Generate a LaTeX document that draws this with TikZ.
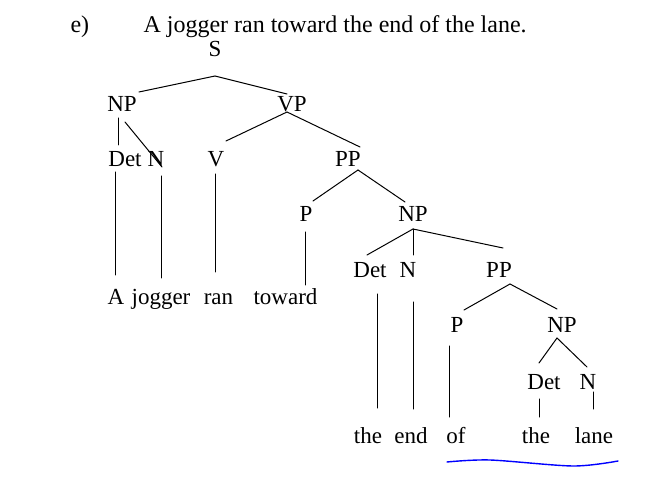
\documentclass[tikz,border=0pt]{standalone}
\usepackage{fontspec}
\setmainfont{Liberation Serif}
\usetikzlibrary{calc}
\begin{document}
\begin{tikzpicture}[x=1pt,y=-1pt,line width=1pt,line cap=round,
	every node/.style={inner sep=0pt,anchor=base,font=\fontsize{23}{27}\selectfont},
	headline/.style={anchor=base west,font=\fontsize{24}{28}\selectfont}]
	\useasboundingbox (0,0) rectangle (667,478);
	% heading
	\node[headline] (tag) at (70,33) {e)};
	\node[headline] (sentence) at (143,33) {A jogger ran toward the end of the lane.};
	% categories, row by row
	\node (s) at (215,57) {S};
	\node (np1) at (122,112) {NP};
	\node (vp) at (292,112) {VP};
	\node (det1) at (125,167) {Det};
	\node (n1) at (156,167) {N};
	\node (v) at (216,167) {V};
	\node (pp1) at (348,167) {PP};
	\node (p1) at (306,222) {P};
	\node (np2) at (413,222) {NP};
	\node (det2) at (370,278) {Det};
	\node (n2) at (408,278) {N};
	\node (pp2) at (499,278) {PP};
	\node (p2) at (457,333) {P};
	\node (np3) at (562,333) {NP};
	\node (det3) at (544,389) {Det};
	\node (n3) at (588,389) {N};
	% words
	\node (wa) at (116,305) {A};
	\node (wjogger) at (161,305) {jogger};
	\node (wran) at (218.5,305) {ran};
	\node (wtoward) at (285.5,305) {toward};
	\node (wthe) at (368,443) {the};
	\node (wend) at (411,443) {end};
	\node (wof) at (456,443) {of};
	\node (wthetoo) at (536,443) {the};
	\node (wlane) at (594,443) {lane};
	% branches
	\draw ($(s.base)+(0,19)$) -- ($(np1.base)+(17,-20)$);
	\draw ($(s.base)+(0,19)$) -- ($(vp.base)+(-5,-18)$);
	\draw ($(np1.base)+(-4,6)$) -- ($(det1.base)+(-7,-22)$);
	\draw ($(np1.base)+(3,10)$) -- ($(n1.base)+(6,0)$);
	\draw ($(det1.base)+(-10,5)$) -- ($(wa.base)+(-1,-30)$);
	\draw ($(n1.base)+(5,9)$) -- ($(wjogger.base)+(0,-27)$);
	\draw ($(vp.base)+(-5,0)$) -- ($(v.base)+(10,-26)$);
	\draw ($(vp.base)+(-5,0)$) -- ($(pp1.base)+(12,-20)$);
	\draw ($(v.base)+(-1,7)$) -- ($(wran.base)+(-3.5,-33)$);
	\draw ($(pp1.base)+(10,3)$) -- ($(p1.base)+(7,-21)$);
	\draw ($(pp1.base)+(10,3)$) -- ($(np2.base)+(-8,-20)$);
	\draw ($(p1.base)+(-1,10)$) -- ($(wtoward.base)+(19.5,-20)$);
	\draw ($(np2.base)+(0,7)$) -- ($(det2.base)+(-3,-23)$);
	\draw ($(np2.base)+(0,7)$) -- ($(n2.base)+(5,-23)$);
	\draw ($(np2.base)+(0,7)$) -- ($(pp2.base)+(4,-30)$);
	\draw ($(det2.base)+(7,16)$) -- ($(wthe.base)+(9,-35)$);
	\draw ($(n2.base)+(5,24)$) -- ($(wend.base)+(2,-34)$);
	\draw ($(pp2.base)+(11,6)$) -- ($(p2.base)+(7,-23)$);
	\draw ($(pp2.base)+(11,6)$) -- ($(np3.base)+(-5,-24)$);
	\draw ($(p2.base)+(-8,13)$) -- ($(wof.base)+(-7,-26)$);
	\draw ($(np3.base)+(-5,5)$) -- ($(det3.base)+(-5,-26)$);
	\draw ($(np3.base)+(-5,5)$) -- ($(n3.base)+(-1,-22)$);
	\draw ($(det3.base)+(-5,10)$) -- ($(wthetoo.base)+(3,-26)$);
	\draw ($(n3.base)+(5,3)$) -- ($(wlane.base)+(-1,-34)$);
	% hand drawn underline
	\draw[blue,line width=1.4pt] plot[smooth] coordinates {(447,462) (490,460) (573,466) (618,461)};
\end{tikzpicture}
\end{document}
